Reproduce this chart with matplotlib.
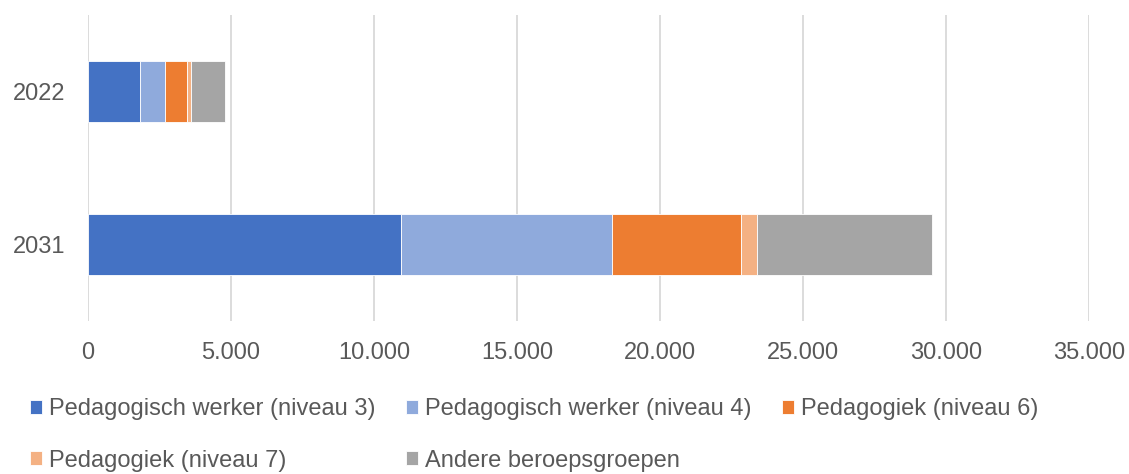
import matplotlib.pyplot as plt
from matplotlib.ticker import FuncFormatter, MultipleLocator

years = ['2031', '2022']
groups = ['Pedagogisch werker (niveau 3)', 'Pedagogisch werker (niveau 4)',
          'Pedagogiek (niveau 6)', 'Pedagogiek (niveau 7)', 'Andere beroepsgroepen']
werker3 = [10940, 1820]
werker4 = [7370, 870]
ped6 = [4520, 770]
ped7 = [560, 150]
andere = [6130, 1180]
colors = ['#4472C4', '#8FAADC', '#ED7D31', '#F4B183', '#A5A5A5']

plt.rcParams['font.family'] = ['Liberation Sans', 'DejaVu Sans']
text_color = '#595959'

fig = plt.figure(figsize=(11.29, 4.74), dpi=100)
ax = fig.add_axes([88 / 1129, 1 - 321 / 474, (1089 - 88) / 1129, 306 / 474])

left = [0, 0]
handles = []
for vals, name, c in zip([werker3, werker4, ped6, ped7, andere], groups, colors):
    b = ax.barh(years, vals, left=left, height=0.4, color=c, edgecolor='white',
                linewidth=0.6, label=name, zorder=3)
    handles.append(b)
    left = [l + v for l, v in zip(left, vals)]

ax.set_xlim(0, 35000)
ax.set_ylim(-0.5, 1.5)
ax.xaxis.set_major_locator(MultipleLocator(5000))
ax.xaxis.set_major_formatter(FuncFormatter(lambda v, p: f'{int(v):,}'.replace(',', '.')))
ax.grid(axis='x', color='#D9D9D9', linewidth=1.3, zorder=0)
for s in ax.spines.values():
    s.set_visible(False)
ax.tick_params(axis='both', length=0, labelsize=17, colors=text_color)
ax.tick_params(axis='x', pad=15)
ax.tick_params(axis='y', pad=16)

# reorder so the legend fills row by row
order = [0, 3, 1, 4, 2]
fig.legend([handles[i] for i in order], [groups[i] for i in order],
           loc='upper left', bbox_to_anchor=(30 / 1129, 1 - 398 / 474), ncol=3,
           frameon=False, fontsize=17, labelcolor=text_color,
           handlelength=0.52, handleheight=0.55, handletextpad=0.28,
           columnspacing=1.3, labelspacing=1.25, borderpad=0, borderaxespad=0)

fig.savefig('out.png', dpi=100)
